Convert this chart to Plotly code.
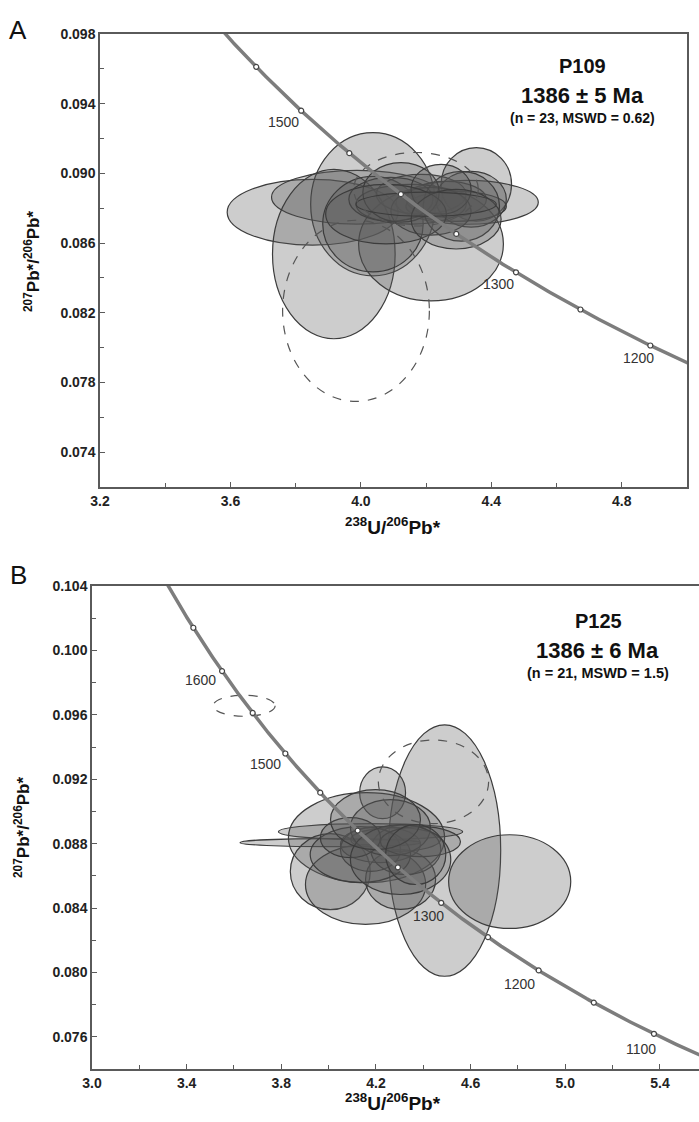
import numpy as np
import plotly.graph_objects as go

# ---------------- data ----------------
# Panel A (P109): ellipse centres and semi-axes (2-sigma), dashed = rejected
a_x = [3.852, 3.988, 4.037, 3.917, 3.985, 4.169, 4.354, 4.326, 4.215, 4.037,
       4.185, 4.262, 4.292, 4.154, 4.338, 4.215, 4.092, 4.308, 4.123, 4.246,
       4.077, 4.292, 4.200]
a_y = [0.08777, 0.08863, 0.08823, 0.08537, 0.08211, 0.08909, 0.08937, 0.08834,
       0.08594, 0.08709, 0.08880, 0.08851, 0.08811, 0.08823, 0.08851, 0.08783,
       0.08851, 0.08811, 0.08891, 0.08909, 0.08766, 0.08737, 0.08823]
a_ex = [0.262, 0.262, 0.191, 0.188, 0.225, 0.191, 0.108, 0.218, 0.222, 0.154,
        0.138, 0.123, 0.154, 0.169, 0.108, 0.123, 0.129, 0.117, 0.117, 0.092,
        0.185, 0.138, 0.215]
a_ey = [0.00189, 0.00154, 0.00411, 0.00486, 0.00520, 0.00211, 0.00211, 0.00126,
        0.00326, 0.00274, 0.00114, 0.00103, 0.00086, 0.00114, 0.00160, 0.00137,
        0.00126, 0.00200, 0.00171, 0.00143, 0.00171, 0.00171, 0.00069]
a_dash = [0, 0, 0, 0, 1, 1, 0, 0, 0, 0, 0, 0, 0, 0, 0, 0, 0, 0, 0, 0, 0, 0, 0]

# Panel B (P125)
b_x = [3.643, 4.443, 4.490, 4.228, 4.765, 4.007, 4.177, 4.160, 4.007, 4.156,
       4.304, 4.219, 4.283, 4.177, 4.326, 4.134, 4.261, 4.388, 4.092, 4.304,
       4.198, 4.368]
b_y = [0.09656, 0.09184, 0.08757, 0.09116, 0.08564, 0.08806, 0.08874, 0.08837,
       0.08626, 0.08546, 0.08577, 0.08794, 0.08825, 0.08763, 0.08763, 0.08732,
       0.08899, 0.08812, 0.08837, 0.08701, 0.08949, 0.08732]
b_ex = [0.131, 0.233, 0.237, 0.097, 0.258, 0.381, 0.389, 0.330, 0.169, 0.254,
        0.148, 0.169, 0.190, 0.127, 0.148, 0.212, 0.169, 0.169, 0.127, 0.212,
        0.190, 0.127]
b_ey = [0.00065, 0.00260, 0.00781, 0.00161, 0.00291, 0.00025, 0.00050, 0.00279,
        0.00236, 0.00248, 0.00186, 0.00112, 0.00074, 0.00136, 0.00155, 0.00174,
        0.00174, 0.00093, 0.00124, 0.00217, 0.00186, 0.00186]
b_dash = [1, 1, 0, 0, 0, 0, 0, 0, 0, 0, 0, 0, 0, 0, 0, 0, 0, 0, 0, 0, 0, 0]

# Concordia age marks (Ma) and labelled ages
marker_ages = [1050, 1100, 1150, 1200, 1250, 1300, 1350, 1400, 1450, 1500,
               1550, 1600, 1650, 1700]
a_labels = [1500, 1300, 1200]
b_labels = [1600, 1500, 1300, 1200, 1100]

# Decay constants (per year)
L238 = 1.55125e-10
L235 = 9.8485e-10
U_RATIO = 137.88


def tw(t_ma):
    t = np.asarray(t_ma, dtype=float) * 1e6
    e8 = np.exp(L238 * t) - 1
    e5 = np.exp(L235 * t) - 1
    return 1.0 / e8, e5 / e8 / U_RATIO


curve_ages = np.linspace(1000, 1800, 400)
cx, cy = tw(curve_ages)
mx, my = tw(marker_ages)

fig = go.Figure()

FILL = "rgba(90,90,90,0.30)"
EDGE = "#3c3c3c"


def add_ellipses(xs, ys, exs, eys, dashes, xref, yref):
    for x, y, ex, ey, d in sorted(zip(xs, ys, exs, eys, dashes), key=lambda r: r[4]):
        fig.add_shape(type="circle", xref=xref, yref=yref,
                      x0=x - ex, x1=x + ex, y0=y - ey, y1=y + ey,
                      fillcolor="rgba(0,0,0,0)" if d else FILL,
                      line=dict(color="#555555" if d else EDGE, width=1.2,
                                dash="dash" if d else "solid"),
                      layer="below")


add_ellipses(a_x, a_y, a_ex, a_ey, a_dash, "x", "y")
add_ellipses(b_x, b_y, b_ex, b_ey, b_dash, "x2", "y2")

for xa, ya in (("x", "y"), ("x2", "y2")):
    fig.add_trace(go.Scatter(x=cx, y=cy, mode="lines", xaxis=xa, yaxis=ya,
                             line=dict(color="#7d7d7d", width=3.5),
                             hoverinfo="skip", showlegend=False))
    fig.add_trace(go.Scatter(x=mx, y=my, mode="markers", xaxis=xa, yaxis=ya,
                             marker=dict(size=5, color="white",
                                         line=dict(color="#444444", width=1.2)),
                             hoverinfo="skip", showlegend=False))

lab_font = dict(family="Liberation Sans, Arial", size=14, color="#333333")
a_off = {1500: (-18, -11), 1300: (-17, -12), 1200: (-12, -13)}
for age in a_labels:
    x, y = tw([age])
    dx, dy = a_off[age]
    fig.add_annotation(x=float(x[0]), y=float(y[0]), xref="x", yref="y",
                       text=str(age), showarrow=False, font=lab_font,
                       xshift=dx, yshift=dy)
b_off = {1600: (-22, -9), 1500: (-20, -11), 1300: (-13, -13),
         1200: (-19, -14), 1100: (-13, -15)}
for age in b_labels:
    x, y = tw([age])
    dx, dy = b_off[age]
    fig.add_annotation(x=float(x[0]), y=float(y[0]), xref="x2", yref="y2",
                       text=str(age), showarrow=False, font=lab_font,
                       xshift=dx, yshift=dy)

W, H = 699, 1122


def px(xp):
    return xp / W


def py(yp):
    return 1 - yp / H


tick_font = dict(family="Liberation Sans, Arial", size=14, color="#222222",
                 weight="bold")
axis_common = dict(showgrid=False, zeroline=False, showline=True,
                   linecolor="#5a5a5a", linewidth=1.5, ticks="inside",
                   ticklen=5, tickwidth=1.3, tickcolor="#5a5a5a",
                   tickfont=tick_font, automargin=False)

fig.update_layout(
    width=W, height=H, margin=dict(l=0, r=0, t=0, b=0, autoexpand=False),
    paper_bgcolor="white", plot_bgcolor="white", showlegend=False,
    xaxis=dict(domain=[px(100), px(687)], range=[3.2, 5.0], anchor="y",
               tickvals=[3.2, 3.6, 4.0, 4.4, 4.8], ticktext=["3.2", "3.6", "4.0", "4.4", "4.8"],
               minor=dict(dtick=0.2, tick0=3.2, ticks="inside", ticklen=4,
                          tickcolor="#5a5a5a"),
               mirror=True, **axis_common),
    yaxis=dict(domain=[py(487), py(34)], range=[0.072, 0.098], anchor="x",
               tickvals=[0.074, 0.078, 0.082, 0.086, 0.090, 0.094, 0.098],
               ticktext=["0.074", "0.078", "0.082", "0.086", "0.090", "0.094", "0.098"],
               minor=dict(dtick=0.002, tick0=0.072, ticks="inside", ticklen=4,
                          tickcolor="#5a5a5a"),
               mirror=True, **axis_common),
    xaxis2=dict(domain=[px(92), 1.0], range=[3.0, 5.565], anchor="y2",
                tickvals=[3.0, 3.4, 3.8, 4.2, 4.6, 5.0, 5.4],
                ticktext=["3.0", "3.4", "3.8", "4.2", "4.6", "5.0", "5.4"],
                minor=dict(dtick=0.2, tick0=3.0, ticks="inside", ticklen=4,
                           tickcolor="#5a5a5a"),
                mirror=True, **axis_common),
    yaxis2=dict(domain=[py(1069), py(586)], range=[0.074, 0.104], anchor="x2",
                tickvals=[0.076, 0.080, 0.084, 0.088, 0.092, 0.096, 0.100, 0.104],
                ticktext=["0.076", "0.080", "0.084", "0.088", "0.092", "0.096", "0.100", "0.104"],
                minor=dict(dtick=0.002, tick0=0.074, ticks="inside", ticklen=4,
                           tickcolor="#5a5a5a"),
                mirror=False, **axis_common),
)


def ann(x, y, text, size, weight="bold", family="Liberation Sans, Arial", angle=0):
    fig.add_annotation(x=px(x), y=py(y), xref="paper", yref="paper", text=text,
                       showarrow=False, textangle=angle,
                       font=dict(family=family, size=size, color="#111111",
                                 weight=weight),
                       xanchor="center", yanchor="middle")


ann(18, 30, "A", 26, weight="normal")
ann(18, 575, "B", 26, weight="normal")

ann(582, 66, "P109", 20)
ann(582, 95, "1386 ± 5 Ma", 22)
ann(582, 118, "(n = 23, MSWD = 0.62)", 14)
ann(598, 621, "P125", 20)
ann(597, 650, "1386 ± 6 Ma", 22)
ann(598, 673, "(n = 21, MSWD = 1.5)", 14.5)

xt = "<sup>238</sup>U/<sup>206</sup>Pb*"
yt = "<sup>207</sup>Pb*/<sup>206</sup>Pb*"
ann(393, 526, xt, 19)
ann(393, 1102, xt, 19)
ann(32, 262, yt, 17, angle=-90)
ann(22, 828, yt, 17, angle=-90)

fig.write_html("out.html", config={"displayModeBar": False},
               post_script="document.body.style.margin='0';")
